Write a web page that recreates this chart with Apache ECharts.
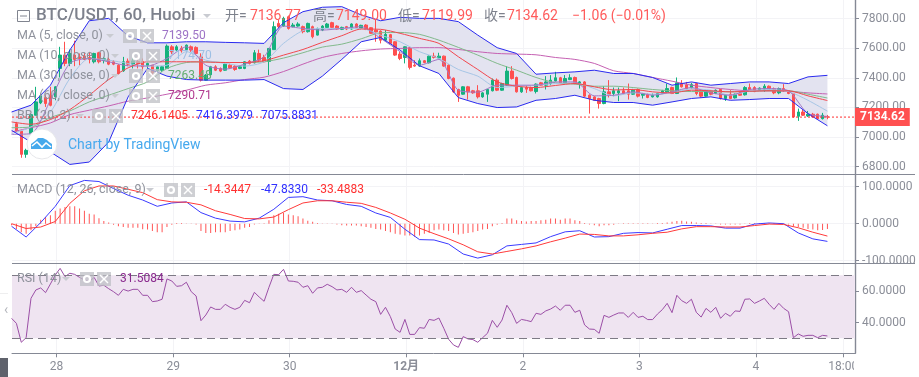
<!DOCTYPE html>
<html>
<head>
<meta charset="utf-8">
<script src="https://cdn.jsdelivr.net/npm/echarts@6/dist/echarts.min.js"></script>
<style>
  html, body { margin: 0; padding: 0; background: #fff; }
  #chart { width: 919px; height: 377px; }
</style>
</head>
<body>
<div id="chart"></div>
<script>
// hourly candles
const opens = [
  7090,7040,6883,7022,7147,7230,7266,7282,7271,7463,
  7553,7497,7553,7541,7546,7537,7508,7569,7519,7524,
  7508,7485,7447,7512,7492,7510,7510,7483,7485,7447,
  7451,7463,7609,7587,7600,7590,7609,7605,7541,7384,
  7420,7474,7463,7451,7485,7478,7463,7463,7512,7501,
  7564,7537,7510,7590,7767,7749,7812,7745,7749,7745,
  7711,7745,7688,7722,7740,7772,7749,7727,7745,7729,
  7763,7733,7756,7738,7722,7715,7654,7691,7643,7560,
  7537,7603,7485,7479,7515,7501,7546,7533,7546,7485,
  7397,7321,7289,7339,7312,7312,7271,7289,7312,7384,
  7316,7350,7445,7402,7305,7334,7334,7307,7366,7350,
  7361,7379,7400,7366,7388,7402,7361,7372,7282,7271,
  7260,7226,7305,7294,7298,7312,7312,7289,7321,7282,
  7289,7271,7271,7294,7305,7334,7294,7361,7352,7332,
  7361,7309,7276,7312,7294,7321,7260,7289,7264,7294,
  7285,7334,7334,7316,7316,7343,7325,7298,7327,7312,
  7294,7140,7169,7142,7154,7154,7124,7136.77];
const closes = [
  7040,6883,6910,7151,7237,7278,7226,7214,7339,7553,
  7497,7564,7524,7530,7524,7524,7564,7508,7528,7492,
  7492,7429,7508,7492,7514,7497,7474,7497,7433,7474,
  7474,7614,7575,7609,7582,7620,7587,7564,7384,7418,
  7474,7451,7445,7492,7467,7456,7474,7508,7497,7569,
  7519,7508,7598,7745,7745,7801,7733,7756,7763,7711,
  7767,7677,7733,7749,7763,7740,7729,7740,7729,7763,
  7740,7754,7727,7700,7709,7654,7693,7632,7553,7530,
  7609,7470,7479,7515,7503,7546,7537,7546,7479,7395,
  7305,7282,7339,7305,7298,7271,7298,7321,7384,7316,
  7361,7445,7395,7305,7334,7323,7312,7357,7350,7372,
  7384,7400,7366,7395,7400,7361,7372,7276,7260,7248,
  7226,7305,7289,7312,7312,7294,7289,7316,7276,7294,
  7267,7282,7294,7312,7327,7294,7366,7339,7327,7354,
  7294,7276,7312,7289,7316,7260,7282,7260,7289,7282,
  7334,7321,7307,7330,7343,7316,7298,7327,7312,7294,
  7136,7169,7147,7154,7136,7124,7147,7134.62];
const lows = [
  7034,6860,6860,7010,7147,7222,7203,7207,7248,7402,
  7478,7478,7478,7485,7519,7497,7497,7497,7497,7485,
  7485,7420,7440,7478,7463,7463,7447,7465,7418,7440,
  7440,7460,7560,7575,7570,7578,7575,7555,7375,7380,
  7415,7445,7438,7447,7460,7447,7458,7458,7490,7497,
  7510,7503,7418,7590,7735,7745,7725,7740,7745,7700,
  7705,7666,7685,7715,7735,7735,7725,7722,7722,7725,
  7735,7728,7722,7695,7643,7632,7643,7628,7548,7519,
  7497,7456,7474,7474,7498,7497,7530,7528,7474,7390,
  7298,7237,7285,7253,7292,7260,7265,7237,7308,7310,
  7312,7345,7388,7300,7298,7298,7308,7294,7345,7321,
  7350,7375,7360,7357,7384,7356,7327,7270,7158,7243,
  7192,7221,7267,7275,7242,7288,7253,7284,7267,7260,
  7262,7267,7266,7290,7300,7290,7290,7334,7323,7328,
  7282,7267,7272,7282,7290,7253,7244,7255,7260,7278,
  7280,7316,7303,7312,7305,7311,7289,7289,7305,7289,
  7131,7109,7142,7136,7131,7120,7118,7119.99];
const highs = [
  7102,7045,6921,7160,7339,7293,7282,7339,7343,7609,
  7643,7590,7650,7564,7569,7575,7569,7575,7541,7537,
  7519,7492,7541,7530,7541,7541,7530,7510,7485,7480,
  7480,7625,7620,7620,7615,7625,7618,7612,7565,7425,
  7480,7485,7470,7497,7495,7485,7478,7512,7520,7587,
  7590,7555,7600,7780,7790,7812,7820,7770,7775,7752,
  7772,7752,7738,7755,7770,7778,7755,7745,7750,7768,
  7768,7758,7762,7742,7790,7720,7722,7696,7648,7576,
  7612,7609,7519,7530,7520,7550,7569,7569,7550,7490,
  7402,7326,7343,7345,7318,7350,7303,7325,7395,7395,
  7366,7478,7478,7408,7340,7350,7340,7362,7372,7411,
  7418,7440,7406,7418,7424,7408,7378,7378,7288,7276,
  7265,7343,7384,7334,7334,7334,7361,7325,7328,7298,
  7294,7294,7298,7318,7361,7340,7402,7384,7372,7366,
  7366,7314,7316,7316,7321,7325,7286,7316,7293,7305,
  7343,7361,7343,7335,7357,7348,7334,7334,7357,7316,
  7298,7192,7185,7176,7163,7158,7163,7149];

// overlays, one reading every 4 candles
const ma5 = [7018,7023,7248,7497,7530,7508,7481,7479,7530,7609,7485,7458,7492,7542,7749,7733,7722,7733,7745,7666,7576,7485,7524,7316,7303,7350,7350,7350,7372,7372,7278,7282,7305,7282,7305,7334,7298,7282,7321,7327,7312,7158,7139.5];
const ma10 = [7023,7068,7169,7395,7530,7519,7497,7479,7485,7576,7519,7497,7479,7508,7632,7718,7733,7733,7733,7688,7643,7576,7530,7456,7411,7334,7343,7350,7361,7366,7327,7278,7298,7289,7298,7325,7316,7282,7312,7321,7307,7248,7174.7];
const ma30 = [7063,7068,7131,7176,7237,7282,7327,7372,7463,7503,7508,7503,7503,7508,7533,7569,7607,7627,7663,7704,7706,7693,7654,7605,7553,7497,7451,7402,7366,7357,7343,7343,7334,7321,7312,7307,7307,7305,7309,7312,7312,7289,7263.48];
const ma60 = [7034,7063,7095,7151,7181,7210,7242,7264,7289,7316,7350,7366,7388,7404,7442,7492,7537,7564,7582,7594,7598,7603,7603,7591,7576,7564,7560,7555,7537,7524,7497,7447,7429,7402,7377,7350,7334,7321,7312,7312,7309,7298,7290.71];
const bbBasis = [7102,7086,7118,7185,7282,7388,7467,7508,7508,7508,7506,7503,7503,7515,7553,7591,7639,7684,7729,7727,7700,7666,7632,7542,7456,7372,7343,7334,7348,7361,7339,7318,7321,7305,7298,7316,7312,7305,7309,7312,7312,7278,7246.14];
const bbUpper = [7169,7215,7350,7587,7785,7801,7682,7636,7636,7643,7643,7639,7636,7632,7772,7846,7876,7880,7824,7785,7808,7801,7801,7779,7688,7603,7564,7424,7433,7440,7451,7429,7429,7402,7350,7372,7350,7361,7372,7372,7361,7406,7416.4];
const bbLower = [7045,6966,6899,6815,6831,6966,7271,7463,7411,7388,7384,7384,7384,7388,7327,7321,7411,7524,7643,7672,7587,7481,7429,7266,7226,7199,7203,7248,7260,7282,7248,7233,7233,7215,7237,7260,7271,7248,7253,7260,7260,7158,7075.88];

// MACD lines, one reading every 3 candles
const macdLine = [-7,-36,3,47,103,117,114,95,77,64,47,56,59,30,15,7,5,15,39,71,73,64,62,52,47,29,17,-15,-43,-44,-55,-82,-93,-84,-60,-56,-52,-35,-22,-19,-36,-35,-26,-24,-25,-15,-5,-5,-6,-12,-12,-1,2,0,-25,-41,-47.83];
const signalLine = [0,-13,-9,6,55,89,102,102,93,84,65,59,58,51,35,25,14,13,18,38,56,62,62,58,55,44,29,12,-12,-27,-41,-57,-76,-82,-75,-68,-60,-49,-39,-28,-29,-33,-33,-30,-26,-23,-14,-8,-8,-9,-9,-5,-1,-2,-11,-23,-33.49];
// histogram and RSI, every candle, with one reading before the first candle
const macdHist = [
  -4,-14,-23,-27,-18,-7,11,18,23,35,41,45,47,47,41,35,27,25,15,7,3,
  -3,-7,-9,-11,-11,-11,-15,-16,-20,-23,-23,-9,-3,2,2,0.5,0.5,-2,-20,-25,
  -25,-23,-23,-23,-20,-18,-16,-11,-9,-2,0.5,1,9,23,27,29,25,23,20,14,
  8,5,2,0.5,0.5,0.5,-2,-4,-5,-5,-5,-7,-9,-11,-14,-16,-20,-23,-27,-29,
  -32,-32,-35,-32,-27,-25,-18,-16,-18,-20,-25,-29,-27,-25,-23,-20,-16,-14,-7,-3,
  2,14,14,9,7,6,7,7,9,11,14,14,11,14,14,9,7,2,-2,-4,
  -7,-4,-4,-3,0.5,1,1,1,1,1,1,0.5,2,2,3,5,7,8,6,5,
  3,2,2,0.5,0.5,-2,-2,-2,-2,-2,-1,2,2,2,2,2,2,0.5,0.5,-2,
  -7,-9,-11,-14,-16,-18,-17,-14.34];
const rsiLine = [
  42.7,39.5,27.5,30.4,55.4,60.7,62,59,64.5,70.2,74.4,69.2,71.3,70.6,68.7,67,66,68.7,63.2,63.7,61.5,
  59.6,57.3,61.1,60,61.1,61.1,57.3,57.3,53.3,53.7,54.8,67.7,66.4,63,63.4,65.6,59.6,56.9,41.2,44.8,
  49.9,48.4,48.4,51.6,49.7,48.4,49.7,54.1,52.6,59.2,56.2,53.5,62.4,70.6,70.4,73.8,66.4,66.2,65.6,62.4,
  63.4,58.6,62,62.4,64.3,62.8,60.7,61.1,59.2,62.4,59.2,60.3,57.5,54.8,53.3,45.2,49.7,43.8,35.9,33.8,
  42,32.5,32.5,36.8,36.4,42,41.4,42.9,36.4,29.4,25.8,24.3,31.1,29.6,29.2,27.5,30.4,33.2,41.4,37,
  41.6,51,46.3,39.5,42,41.4,40.6,45.9,45.2,47.4,48.6,50.5,47.8,51,51,46.5,47.8,38.5,35.9,35.7,
  33.2,44.6,43.3,44.8,46.1,46.1,43.3,46.5,43.3,44,41.9,41.9,45.4,48.2,52.2,46.3,57.3,53.9,52.2,54.8,
  46.5,43.5,49,46.5,49.7,42.7,45.9,44,47.4,47.1,54.8,55,52.2,53.7,55.4,51.6,48.4,52.2,49,46.9,
  30.4,32.8,31.3,31.9,31.9,30.4,31.9,31.5084];

// axis ticks: x is hours counted from the start of 27 Nov
const dayTicks = [24, 48, 72, 96, 120, 144, 168, 186];
const dayLabels = ['28', '29', '30', '12月', '2', '3', '4', '18:00'];
const priceTicks = [6800, 7000, 7200, 7400, 7600, 7800];
const macdTicks = [-100, 0, 100];
const rsiTicks = [40, 60];

const FIRST_HOUR = 15.73;
const X_MIN = 14.82;
const X_MAX = 188.41;
const GREY = '#7d818c';
const LEGEND_GREY = '#8f929c';
const AXIS = '#858995';
const TEXT_GREY = '#8b8e98';
const FONT = 'Roboto, "Noto Sans CJK SC", sans-serif';
const UP = '#13b27d';
const DOWN = '#ff4f4f';
const SMOOTH = 0.25;

const hourAt = (i, step) => FIRST_HOUR - 1 + i * step;
const sampled = (arr, step) => arr.map((v, i) => [hourAt(i, step), v]);

const candles = opens.map((o, i) => [FIRST_HOUR + i, o, closes[i], lows[i], highs[i]]);
const lastClose = closes[closes.length - 1];

function lineSeries(data, color, xi, smooth) {
  return {
    type: 'line', xAxisIndex: xi, yAxisIndex: xi, data: data,
    symbol: 'none', silent: true, z: 4, smooth: smooth || false,
    lineStyle: { color: color, width: 1 }
  };
}

function xAxisFor(gridIndex, showLabels) {
  return {
    type: 'value', gridIndex: gridIndex, min: X_MIN, max: X_MAX,
    axisLine: { show: showLabels, onZero: false, lineStyle: { color: AXIS } },
    axisTick: { show: showLabels, length: 4, customValues: dayTicks, lineStyle: { color: AXIS } },
    axisLabel: {
      show: showLabels, customValues: dayTicks, color: TEXT_GREY, fontSize: 12, fontFamily: FONT, margin: 8,
      formatter: v => {
        const s = dayLabels[dayTicks.indexOf(v)];
        return s === '12月' ? '{b|' + s + '}' : s;
      },
      rich: { b: { fontWeight: 'bold', color: TEXT_GREY, fontSize: 12, fontFamily: FONT } }
    },
    splitLine: { show: true, lineStyle: { color: '#f3f3f6' } }
  };
}

function yAxisFor(gridIndex, min, max, ticks, digits, splitColor) {
  return {
    type: 'value', gridIndex: gridIndex, position: 'right', min: min, max: max,
    axisLine: { show: true, onZero: false, lineStyle: { color: AXIS, width: 1.4 } },
    axisTick: { show: true, length: 4, customValues: ticks, lineStyle: { color: AXIS } },
    axisLabel: {
      customValues: ticks, color: TEXT_GREY, fontSize: 12, fontFamily: FONT, margin: 7,
      formatter: v => v.toFixed(digits)
    },
    splitLine: { show: true, lineStyle: { color: splitColor || '#f3f3f6' } }
  };
}

// ---- legend text and small decorations on top of the chart ----
const g = [];
function txt(text, x, y, fill, font) {
  g.push({ type: 'text', x: x, y: y, z: 100, silent: true, style: {
    text: text, fill: fill, font: font || ('12.5px ' + FONT), verticalAlign: 'middle', align: 'left' } });
}
function chevron(x, y) {
  g.push({ type: 'polygon', z: 100, silent: true, shape: { points: [[x - 4, y - 2], [x + 4, y - 2], [x, y + 2]] },
    style: { fill: '#c9cbd1' } });
}
function buttons(x, y) {
  // gear box, then close box
  g.push({ type: 'rect', z: 100, silent: true, shape: { x: x, y: y - 7, width: 14, height: 14 }, style: { fill: 'rgba(190,191,196,0.75)' } });
  g.push({ type: 'circle', z: 101, silent: true, shape: { cx: x + 7, cy: y, r: 3 }, style: { fill: 'none', stroke: '#fff', lineWidth: 2.2 } });
  const bx = x + 17;
  g.push({ type: 'rect', z: 100, silent: true, shape: { x: bx, y: y - 7, width: 14, height: 14 }, style: { fill: 'rgba(190,191,196,0.75)' } });
  g.push({ type: 'line', z: 101, silent: true, shape: { x1: bx + 3, y1: y - 4, x2: bx + 11, y2: y + 4 }, style: { stroke: '#fff', lineWidth: 1.5 } });
  g.push({ type: 'line', z: 101, silent: true, shape: { x1: bx + 11, y1: y - 4, x2: bx + 3, y2: y + 4 }, style: { stroke: '#fff', lineWidth: 1.5 } });
}

// frame
[174.5, 263.5].forEach(y => g.push({ type: 'line', z: 50, silent: true,
  shape: { x1: 12, y1: y, x2: 915, y2: y }, style: { stroke: AXIS, lineWidth: 1 } }));
g.push({ type: 'rect', z: 90, silent: true, shape: { x: 854, y: 355, width: 65, height: 22 }, style: { fill: '#fff' } });
g.push({ type: 'rect', z: 90, silent: true, shape: { x: 0, y: 358, width: 8, height: 19 }, style: { fill: '#5f626c' } });
g.push({ type: 'line', z: 50, silent: true, shape: { x1: 0, y1: 293.5, x2: 8, y2: 293.5 }, style: { stroke: '#eeeeef', lineWidth: 1 } });
txt('‹', 4, 310, '#b4b6bd', '14px ' + FONT);

// title row
g.push({ type: 'rect', z: 100, silent: true, shape: { x: 17.5, y: 10.5, width: 12, height: 11 }, style: { fill: 'none', stroke: '#80848f', lineWidth: 1 } });
g.push({ type: 'line', z: 100, silent: true, shape: { x1: 20, y1: 16, x2: 27, y2: 16 }, style: { stroke: '#80848f', lineWidth: 1 } });
const TITLE_FONT = '500 17px ' + FONT;
const OHLC_FONT = '14px ' + FONT;
txt('BTC/USDT, 60, Huobi', 36, 16, GREY, TITLE_FONT);
chevron(207, 16);
const RED_TXT = '#ff5b5b';
[['开=', 225, '7136.77', 250], ['高=', 313, '7149.00', 336], ['低=', 398, '7119.99', 422], ['收=', 484, '7134.62', 507]].forEach(r => {
  txt(r[0], r[1], 16, GREY, OHLC_FONT);
  txt(r[2], r[3], 16, RED_TXT, OHLC_FONT);
});
txt('−1.06 (−0.01%)', 572, 16, RED_TXT, OHLC_FONT);

// indicator rows
const MA5_C = '#a277c6', MA10_C = '#a7c6e6', MA30_C = '#82ba8c', MA60_C = '#c560b2';
const VAL_FONT = '12px ' + FONT;
txt('MA (5, close, 0)', 17, 36, LEGEND_GREY); chevron(110, 36); buttons(123, 36); txt('7139.50', 162, 36, '#9d73c6', VAL_FONT);
txt('MA (10, close, 0)', 17, 56, LEGEND_GREY); chevron(115, 56); buttons(129, 56); txt('7174.70', 168, 56, '#9dbfe4', VAL_FONT);
txt('MA (30, close, 0)', 17, 76, LEGEND_GREY); chevron(115, 76); buttons(129, 76); txt('7263.48', 168, 76, '#62ad70', VAL_FONT);
txt('MA (60, close, 0)', 17, 96, LEGEND_GREY); chevron(115, 96); buttons(129, 96); txt('7290.71', 168, 96, '#b1398f', VAL_FONT);
txt('BB (20, 2)', 17, 116, LEGEND_GREY); chevron(80, 116); buttons(92, 116);
txt('7246.1405', 131, 116, '#ff3030', VAL_FONT); txt('7416.3979', 196, 116, '#3030ff', VAL_FONT); txt('7075.8831', 261, 116, '#3030ff', VAL_FONT);
txt('MACD (12, 26, close, 9)', 17, 190, LEGEND_GREY); chevron(150, 190); buttons(164, 190);
txt('-14.3447', 204, 190, '#ff3030', VAL_FONT); txt('-47.8330', 261, 190, '#3030ff', VAL_FONT); txt('-33.4883', 317, 190, '#ff3030', VAL_FONT);
txt('RSI (14)', 17, 279, LEGEND_GREY); chevron(66, 279); buttons(80, 279); txt('31.5084', 120, 279, '#8a2a8e', VAL_FONT);

// TradingView badge
g.push({ type: 'circle', z: 100, silent: true, shape: { cx: 42, cy: 144, r: 15 }, style: { fill: '#fff', stroke: '#e6e7ea', lineWidth: 1 } });
g.push({ type: 'polygon', z: 101, silent: true, shape: { points: [[31, 149], [31, 144], [35, 141], [38, 138], [43, 138], [47, 140], [49, 142], [52, 144], [52, 149]] }, style: { fill: '#45a9ec' } });
g.push({ type: 'polyline', z: 102, silent: true, shape: { points: [[32, 146], [37, 142], [42, 147], [46, 143], [51, 147]] }, style: { fill: 'none', stroke: '#fff', lineWidth: 1.6 } });
txt('Chart by TradingView', 68, 145, '#46a9ee', '14px ' + FONT);

const chart = echarts.init(document.getElementById('chart'), null, { renderer: 'canvas' });
chart.setOption({
  animation: false,
  grid: [
    { left: 12, width: 843, top: 0, height: 174.5 },
    { left: 12, width: 843, top: 174.5, height: 89 },
    { left: 12, width: 843, top: 263.5, height: 89.8 }
  ],
  xAxis: [xAxisFor(0, false), xAxisFor(1, false), xAxisFor(2, true)],
  yAxis: [
    yAxisFor(0, 6747, 7925, priceTicks, 2),
    yAxisFor(1, -107.6, 133, macdTicks, 4),
    yAxisFor(2, 20.5, 77.5, rsiTicks, 4, '#e9dfe9')
  ],
  graphic: { elements: g },
  series: [
    {
      // Bollinger fill between the two bands
      type: 'custom', xAxisIndex: 0, yAxisIndex: 0, silent: true, clip: true, z: 1,
      data: sampled(bbUpper, 4),
      renderItem: (params, api) => {
        if (params.dataIndex !== 0) return null;
        const top = bbUpper.map((v, i) => api.coord([hourAt(i, 4), v]));
        const bottom = bbLower.map((v, i) => api.coord([hourAt(i, 4), v])).reverse();
        return { type: 'polygon', shape: { points: top.concat(bottom) }, style: { fill: '#e3e3f0' } };
      }
    },
    {
      type: 'candlestick', xAxisIndex: 0, yAxisIndex: 0, silent: true, z: 3,
      data: candles, encode: { x: 0, y: [1, 2, 3, 4] }, barWidth: 3,
      itemStyle: { color: UP, color0: DOWN, borderColor: UP, borderColor0: DOWN, borderWidth: 1 }
    },
    lineSeries(sampled(ma60, 4), MA60_C, 0, SMOOTH),
    lineSeries(sampled(ma30, 4), MA30_C, 0, SMOOTH),
    lineSeries(sampled(ma10, 4), MA10_C, 0, SMOOTH),
    lineSeries(sampled(ma5, 4), MA5_C, 0, SMOOTH),
    lineSeries(sampled(bbBasis, 4), '#f2474e', 0, SMOOTH),
    lineSeries(sampled(bbUpper, 4), '#2a2aef', 0),
    lineSeries(sampled(bbLower, 4), '#2a2aef', 0),
    {
      // dotted last-price line with the price tag on the axis
      type: 'line', xAxisIndex: 0, yAxisIndex: 0, silent: true, symbol: 'none', z: 60,
      data: [[X_MIN, lastClose], [X_MAX, lastClose]],
      lineStyle: { color: '#ff2f2f', type: [2, 2], width: 1 },
      endLabel: {
        show: true, distance: 0, formatter: () => lastClose.toFixed(2), color: '#fff', fontWeight: 'bold',
        fontSize: 12, fontFamily: FONT, backgroundColor: '#ff5050', padding: [3, 5, 3, 5]
      }
    },
    {
      type: 'bar', xAxisIndex: 1, yAxisIndex: 1, silent: true, barWidth: 1,
      data: sampled(macdHist, 1), itemStyle: { color: '#ff5555' }
    },
    lineSeries(sampled(macdLine, 3), '#3a3aff', 1),
    lineSeries(sampled(signalLine, 3), '#ff3a3a', 1),
    {
      type: 'line', xAxisIndex: 2, yAxisIndex: 2, silent: true, symbol: 'none', z: 4,
      data: sampled(rsiLine, 1), lineStyle: { color: '#9b4fa6', width: 1 },
      markArea: {
        silent: true, itemStyle: { color: '#efe4f1' },
        data: [[{ yAxis: 30 }, { yAxis: 70 }]]
      },
      markLine: {
        silent: true, symbol: 'none', animation: false, label: { show: false },
        lineStyle: { color: '#7d7a85', type: [8, 5], width: 1 },
        data: [{ yAxis: 70 }, { yAxis: 30 }]
      }
    }
  ]
});
</script>
</body>
</html>
